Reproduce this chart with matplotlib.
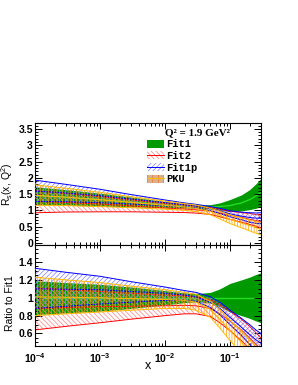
import numpy as np
import matplotlib.pyplot as plt
from matplotlib.patches import Patch
from matplotlib.lines import Line2D
from matplotlib.ticker import MultipleLocator, LogLocator, NullFormatter, FormatStrFormatter

plt.rcParams['font.family'] = 'Liberation Sans'
plt.rcParams['font.weight'] = 'bold'
plt.rcParams['mathtext.fontset'] = 'custom'
plt.rcParams['mathtext.rm'] = 'Liberation Sans:bold'
plt.rcParams['mathtext.it'] = 'Liberation Sans:bold'
plt.rcParams['mathtext.bf'] = 'Liberation Sans:bold'
plt.rcParams['hatch.linewidth'] = 0.5

# x grid
x = np.array([1e-4, 3e-4, 1e-3, 3e-3, 1e-2, 2e-2, 3e-2, 5e-2, 7e-2, 0.1, 0.15, 0.2, 0.25, 0.3])

# Fit1 central R_s and relative half width
fit1_c = np.array([1.45, 1.40, 1.33, 1.26, 1.18, 1.14, 1.12, 1.11, 1.12, 1.15, 1.23, 1.33, 1.44, 1.55])
fit1_w = np.array([0.19, 0.17, 0.15, 0.12, 0.08, 0.055, 0.045, 0.06, 0.10, 0.16, 0.20, 0.23, 0.26, 0.28])

# other fits, as ratio to Fit1 central
fit2_c = np.array([0.88, 0.89, 0.90, 0.905, 0.91, 0.915, 0.91, 0.88, 0.82, 0.74, 0.64, 0.55, 0.48, 0.42])
fit2_lo = np.array([0.64, 0.68, 0.72, 0.76, 0.80, 0.82, 0.82, 0.79, 0.72, 0.63, 0.52, 0.43, 0.36, 0.30])
fit2_hi = np.array([1.11, 1.09, 1.07, 1.05, 1.03, 1.02, 1.01, 0.98, 0.92, 0.85, 0.76, 0.68, 0.61, 0.55])

fit1p_c = np.array([1.10, 1.095, 1.09, 1.07, 1.05, 1.03, 1.01, 0.95, 0.88, 0.78, 0.67, 0.59, 0.53, 0.49])
fit1p_lo = np.array([0.88, 0.905, 0.93, 0.95, 0.97, 0.97, 0.96, 0.89, 0.81, 0.70, 0.58, 0.48, 0.42, 0.38])
fit1p_hi = np.array([1.33, 1.285, 1.24, 1.18, 1.12, 1.08, 1.06, 1.01, 0.95, 0.86, 0.77, 0.70, 0.64, 0.60])

pku_c = np.array([1.01, 1.005, 1.00, 0.99, 0.98, 0.97, 0.95, 0.87, 0.76, 0.63, 0.50, 0.40, 0.33, 0.27])
pku_lo = np.array([0.80, 0.82, 0.84, 0.86, 0.88, 0.88, 0.86, 0.78, 0.66, 0.52, 0.38, 0.28, 0.21, 0.16])
pku_hi = np.array([1.23, 1.20, 1.17, 1.13, 1.09, 1.06, 1.04, 0.96, 0.87, 0.75, 0.63, 0.53, 0.46, 0.40])

labels = ['Fit1', 'Fit2', 'Fit1p', 'PKU']
green, green_c = '#009a00', '#22dd22'
red, red_h = '#ff0000', '#ff8080'
blue, blue_h = '#0000ff', '#8080ff'
orange, orange_h = '#ffbb00', '#ff9900'
hatch_r, hatch_b, hatch_o = '\\' * 7, '/' * 7, '|' * 6


def hatched(ax, lo, c, hi, col, hcol, hatch, z):
    ax.fill_between(x, lo, hi, facecolor='none', edgecolor=hcol, hatch=hatch, lw=0, zorder=z)
    for y in (lo, c, hi):
        ax.plot(x, y, color=col, lw=0.7, zorder=z + 0.5)


fig = plt.figure(figsize=(2.98, 3.85), dpi=100)
ax1 = fig.add_axes([0.1174, 0.3636, 0.7584, 0.3169])
ax2 = fig.add_axes([0.1174, 0.1013, 0.7584, 0.2623], sharex=ax1)

for ax, scale in ((ax1, fit1_c), (ax2, np.ones_like(fit1_c))):
    ax.fill_between(x, scale * (1 - fit1_w), scale * (1 + fit1_w), color=green, lw=0, zorder=1)
    ax.plot(x, scale, color=green_c, lw=1.0, zorder=1.5)
    f = scale if ax is ax1 else 1.0
    hatched(ax, fit2_lo * f, fit2_c * f, fit2_hi * f, red, red_h, hatch_r, 2)
    hatched(ax, fit1p_lo * f, fit1p_c * f, fit1p_hi * f, blue, blue_h, hatch_b, 3)
    hatched(ax, pku_lo * f, pku_c * f, pku_hi * f, orange, orange_h, hatch_o, 4)

ax1.set_xscale('log')
ax1.set_xlim(1e-4, 0.3)
ax1.set_ylim(-0.06, 3.68)
ax2.set_ylim(0.46, 1.59)

for ax in (ax1, ax2):
    ax.tick_params(which='both', direction='in', top=True, right=True, labelsize=7.5, width=0.7)
    ax.tick_params(axis='y', which='major', length=5, pad=1.5)
    ax.tick_params(axis='y', which='minor', length=2.5)
    ax.tick_params(axis='x', which='major', length=4)
    ax.tick_params(axis='x', which='minor', length=2)
    ax.xaxis.set_minor_locator(LogLocator(base=10, subs=np.arange(2, 10)))
    ax.xaxis.set_minor_formatter(NullFormatter())
    for s in ax.spines.values():
        s.set_linewidth(0.8)

ax1.yaxis.set_major_locator(MultipleLocator(0.5))
ax1.yaxis.set_minor_locator(MultipleLocator(0.1))
ax1.yaxis.set_major_formatter(FormatStrFormatter('%g'))
ax2.yaxis.set_major_locator(MultipleLocator(0.2))
ax2.yaxis.set_minor_locator(MultipleLocator(0.05))
ax2.yaxis.set_major_formatter(FormatStrFormatter('%g'))
ax1.tick_params(axis='x', labelbottom=False)

ax1.set_ylabel(r'$\mathregular{R_s(x,\,Q^2)}$', fontsize=7.5)
ax2.set_ylabel('Ratio to Fit1', fontsize=7.5)
ax1.yaxis.set_label_coords(-0.088, 0.5)
ax2.yaxis.set_label_coords(-0.09, 0.43)
ax2.set_xlabel('x', fontsize=9, labelpad=-3)

ax1.text(0.721, 0.918, 'Q² = 1.9 GeV²', transform=ax1.transAxes, ha='center', va='center',
         family='Liberation Serif', weight='bold', fontsize=8)

handles = [
    Patch(facecolor=green, edgecolor=green, lw=0),
    (Patch(facecolor='white', edgecolor=red_h, hatch=hatch_r, lw=0), Line2D([], [], color=red, lw=0.7)),
    (Patch(facecolor='white', edgecolor=blue_h, hatch=hatch_b, lw=0), Line2D([], [], color=blue, lw=0.7)),
    (Patch(facecolor='#dcb08a', edgecolor='#e8781e', hatch='|||', lw=0), Line2D([], [], color=orange, lw=0.7)),
]
ax1.legend(handles, labels, loc='upper left', bbox_to_anchor=(0.496, 0.865), frameon=False,
           prop=dict(family='Liberation Mono', weight='bold', size=7.5),
           handlelength=1.6, handleheight=0.8, handletextpad=0.2, labelspacing=0.15,
           borderpad=0, borderaxespad=0)

fig.savefig('out.png', dpi=100)
